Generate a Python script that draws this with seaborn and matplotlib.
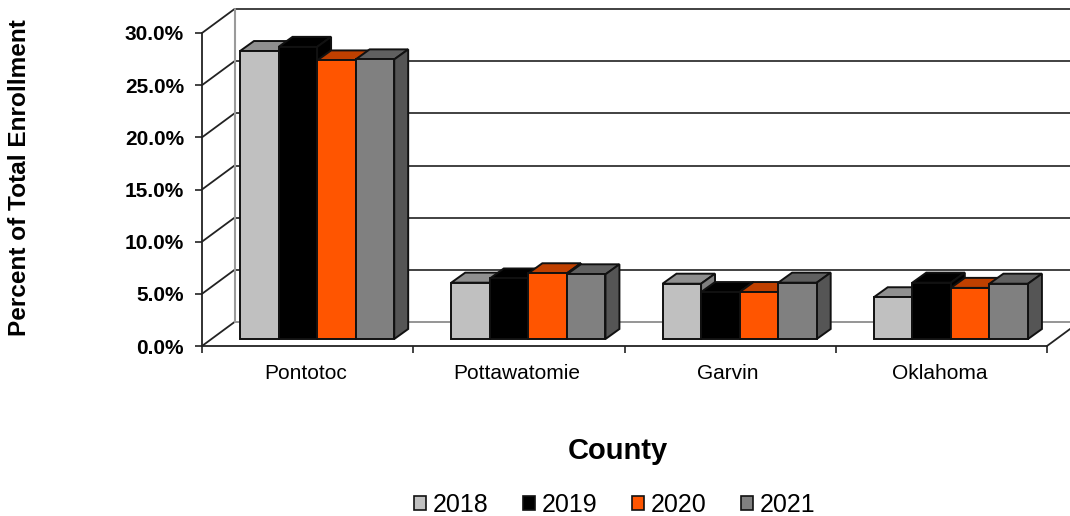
import matplotlib
matplotlib.use("Agg")
import matplotlib.pyplot as plt
import pandas as pd
import seaborn as sns
from matplotlib.patches import Patch, Polygon

counties = ["Pontotoc", "Pottawatomie", "Garvin", "Oklahoma"]
years = ["2018", "2019", "2020", "2021"]
values_2018 = [27.6, 5.4, 5.3, 4.0]
values_2019 = [28.0, 5.8, 4.5, 5.4]
values_2020 = [26.7, 6.3, 4.5, 4.9]
values_2021 = [26.8, 6.2, 5.4, 5.3]
y_ticks = [0, 5, 10, 15, 20, 25, 30]
colors = ["#C0C0C0", "#000000", "#FF5500", "#808080"]
top_colors = ["#909090", "#000000", "#BF4000", "#606060"]
side_colors = ["#7F7F7F", "#000000", "#A83800", "#555555"]

# 3D LOOK, ALL IN DATA UNITS (one category = 211 px, 1% = 10.43 px)
WALL_DX, WALL_DY = 0.154, 2.3
BAR_DX, BAR_DY = 0.045, 0.67
DEPTH_DX, DEPTH_DY = 0.066, 0.96
EDGE = "#111111"

df = pd.DataFrame(
    {
        "county": counties * 4,
        "year": [y for y in years for _ in counties],
        "value": values_2018 + values_2019 + values_2020 + values_2021,
    }
)

sns.set_theme(style="white")
plt.rcParams["font.family"] = ["Liberation Sans", "DejaVu Sans"]

fig = plt.figure(figsize=(10.7, 5.16), dpi=100)
ax = fig.add_axes([202 / 1070, 1 - 346 / 516, 845 / 1070, 313 / 516])

sns.barplot(
    data=df,
    x="county",
    y="value",
    hue="year",
    palette=colors,
    width=0.73,
    gap=0,
    saturation=1,
    legend=False,
    ax=ax,
)
ax.set_xlim(-0.5, 3.5)
ax.set_ylim(0, 30)

# WALLS AND GRID
for tick in y_ticks:
    wall_color = "#8C8C8C" if tick == 0 else "#333333"
    ax.plot(
        [-0.5, -0.5 + WALL_DX],
        [tick, tick + WALL_DY],
        color="#222222",
        lw=1.3,
        clip_on=False,
        zorder=1,
    )
    ax.plot(
        [-0.5 + WALL_DX, 3.5 + WALL_DX],
        [tick + WALL_DY, tick + WALL_DY],
        color=wall_color,
        lw=1.3,
        clip_on=False,
        zorder=1.1,
    )
ax.plot(
    [-0.5 + WALL_DX, -0.5 + WALL_DX],
    [WALL_DY, 30 + WALL_DY],
    color="#9A9A9A",
    lw=1.5,
    clip_on=False,
    zorder=1.2,
)
ax.plot(
    [3.5, 3.5 + WALL_DX], [0, WALL_DY], color="#222222", lw=1.3, clip_on=False, zorder=1
)

# EXTRUDE THE BARS
for i, container in enumerate(ax.containers):
    for bar in container:
        bar.set_x(bar.get_x() + BAR_DX)
        bar.set_y(BAR_DY)
        bar.set_edgecolor(EDGE)
        bar.set_linewidth(1.4)
        bar.set_clip_on(False)
        bar.set_zorder(3 + i)

        x0, x1 = bar.get_x(), bar.get_x() + bar.get_width()
        y0, y1 = BAR_DY, BAR_DY + bar.get_height()
        top = [
            (x0, y1),
            (x0 + DEPTH_DX, y1 + DEPTH_DY),
            (x1 + DEPTH_DX, y1 + DEPTH_DY),
            (x1, y1),
        ]
        side = [
            (x1, y0),
            (x1 + DEPTH_DX, y0 + DEPTH_DY),
            (x1 + DEPTH_DX, y1 + DEPTH_DY),
            (x1, y1),
        ]
        for pts, face in ((top, top_colors[i]), (side, side_colors[i])):
            ax.add_patch(
                Polygon(
                    pts,
                    closed=True,
                    facecolor=face,
                    edgecolor=EDGE,
                    lw=1.4,
                    clip_on=False,
                    zorder=2.5 + i,
                )
            )

sns.despine(ax=ax)
ax.spines["left"].set_color("#222222")
ax.spines["bottom"].set_color("#222222")
ax.spines["left"].set_linewidth(1.3)
ax.spines["bottom"].set_linewidth(1.3)
ax.patch.set_alpha(0)

# TICKS: MAJOR ON THE CATEGORY BOUNDS, LABELS ON THE CENTRES
ax.set_xticks([i - 0.5 for i in range(len(counties) + 1)])
ax.set_xticklabels([])
ax.set_xticks([i - 0.01 for i in range(len(counties))], labels=counties, minor=True)
ax.tick_params(axis="x", which="major", length=5, width=1.2, color="#222222", bottom=True)
ax.tick_params(axis="x", which="minor", length=0, pad=13, labelsize=15, labelcolor="black")
ax.set_yticks(y_ticks, labels=[f"{t:.1f}%" for t in y_ticks])
ax.tick_params(axis="y", length=5, width=1.2, color="#222222", left=True, pad=8, labelsize=15, labelcolor="black")
for label in ax.get_yticklabels():
    label.set_fontweight("bold")

ax.set_xlabel("")
ax.set_ylabel("")
fig.text(617.5 / 1070, 1 - 451 / 516, "County", ha="center", va="center", fontsize=21, fontweight="bold", color="black")
fig.text(17 / 1070, 1 - 177.5 / 516, "Percent of Total Enrollment", rotation=90, ha="left", va="center", fontsize=17.6, fontweight="bold", color="black").set_x(8 / 1070)

handles = [Patch(facecolor=c, edgecolor=EDGE, lw=1.2) for c in colors]
fig.legend(
    handles,
    years,
    loc="center",
    bbox_to_anchor=(614.5 / 1070, 1 - 504.5 / 516),
    ncol=4,
    frameon=False,
    fontsize=18,
    handlelength=0.5,
    handleheight=0.5,
    handletextpad=0.25,
    columnspacing=1.38,
    labelcolor="black",
    borderpad=0,
)

fig.savefig("out.png", dpi=100)
